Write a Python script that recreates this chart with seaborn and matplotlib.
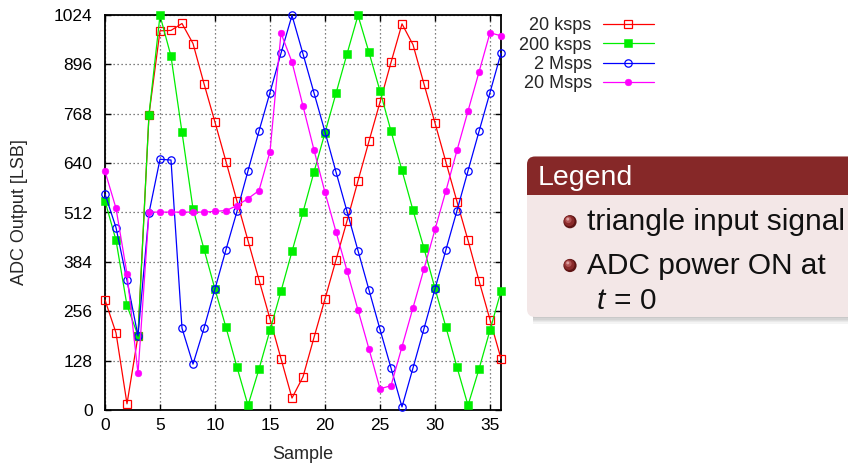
import matplotlib
matplotlib.use("Agg")
import numpy as np
import pandas as pd
import seaborn as sns
import matplotlib.pyplot as plt
from matplotlib.patches import FancyBboxPatch, Rectangle, Circle

samples = list(range(37))
adc_20ksps = [285, 200, 16, 192, 766, 983, 984, 1002, 950, 846, 746, 644, 541, 439, 337, 236, 133, 31, 86,
              188, 288, 389, 490, 594, 697, 798, 901, 1001, 947, 845, 744, 642, 540, 440, 335, 234, 133]
adc_200ksps = [542, 440, 271, 193, 766, 1023, 917, 720, 522, 417, 313, 214, 111, 12, 106, 207, 308, 411, 513,
               617, 719, 821, 923, 1023, 927, 827, 723, 621, 518, 419, 315, 214, 111, 12, 106, 207, 308]
adc_2Msps = [560, 473, 336, 192, 511, 650, 648, 212, 119, 212, 314, 416, 515, 620, 723, 823, 925, 1023, 923,
             822, 721, 617, 515, 413, 311, 209, 109, 8, 109, 211, 314, 416, 517, 620, 722, 823, 925]
adc_20Msps = [619, 523, 353, 95, 513, 513, 513, 513, 513, 513, 515, 517, 530, 548, 569, 670, 977, 902, 788,
              674, 564, 462, 361, 259, 158, 55, 63, 164, 265, 366, 468, 569, 673, 775, 876, 978, 970]
series_names = ["20 ksps", "200 ksps", "2 Msps", "20 Msps"]
y_ticks = [0, 128, 256, 384, 512, 640, 768, 896, 1024]
x_ticks = [0, 5, 10, 15, 20, 25, 30, 35]
block_title = "Legend"
block_items = ["triangle input signal", "ADC power ON at"]
block_item_cont = "$t\\,=\\,0$"

frames = []
for name, vals in zip(series_names, [adc_20ksps, adc_200ksps, adc_2Msps, adc_20Msps]):
    frames.append(pd.DataFrame({"sample": samples, "adc": vals, "series": name}))
df = pd.concat(frames, ignore_index=True)

sns.set_style("ticks")
plt.rcParams["font.family"] = ["Liberation Sans", "DejaVu Sans"]
plt.rcParams["mathtext.fontset"] = "custom"
plt.rcParams["mathtext.rm"] = "Liberation Sans"
plt.rcParams["mathtext.it"] = "Liberation Sans:italic"

fig = plt.figure(figsize=(8.48, 4.65), dpi=100)
ax = fig.add_axes([105 / 848, 1 - 410 / 465, 396 / 848, 395 / 465])

styles = {
    "20 ksps": dict(color="#ff0000", marker="s", markersize=5.2, markerfacecolor="none",
                    markeredgecolor="#ff0000", markeredgewidth=0.9),
    "200 ksps": dict(color="#00ee00", marker="s", markersize=5.4, markerfacecolor="#00ee00",
                     markeredgecolor="#00ee00", markeredgewidth=0.4),
    "2 Msps": dict(color="#0000ff", marker="o", markersize=5.3, markerfacecolor="none",
                   markeredgecolor="#0000ff", markeredgewidth=0.9),
    "20 Msps": dict(color="#ff00ff", marker="o", markersize=4.8, markerfacecolor="#ff00ff",
                    markeredgecolor="#ff00ff", markeredgewidth=0.4),
}
for i, name in enumerate(series_names):
    sub = df[df["series"] == name]
    sns.lineplot(data=sub, x="sample", y="adc", ax=ax, estimator=None, errorbar=None,
                 linewidth=0.9, clip_on=False, zorder=3 + i, label=name, **styles[name])

ax.set_xlim(0, 36)
ax.set_ylim(0, 1024)
ax.set_xticks(x_ticks)
ax.set_yticks(y_ticks)
ax.set_xticklabels([str(t) for t in x_ticks])
ax.set_yticklabels([str(t) for t in y_ticks])
ax.tick_params(direction="in", top=True, right=True, length=4, width=1.0, labelsize=12.5, colors="black")
ax.tick_params(axis="y", pad=9)
ax.tick_params(axis="x", pad=6)
for s in ax.spines.values():
    s.set_visible(True)
    s.set_linewidth(1.3)
    s.set_color("black")
ax.grid(True, color="#555555", linestyle=(0, (1, 2.2)), linewidth=0.9)
ax.set_axisbelow(True)
ax.set_xlabel("Sample", fontsize=13)
ax.set_ylabel("ADC Output [LSB]", fontsize=13)
ax.yaxis.set_label_coords((28 - 105) / 396, 0.5)
ax.xaxis.set_label_coords(0.5, -(446 - 410) / 395)

handles = ax.get_lines()[:4]
leg = ax.legend(handles, series_names, loc="upper right", bbox_to_anchor=(654 / 848, 1 - 17.5 / 465),
                bbox_transform=fig.transFigure, frameon=False, markerfirst=False, fontsize=13,
                handlelength=2.85, handletextpad=0.6, labelspacing=0.12, borderpad=0, borderaxespad=0)

# Beamer-style block on an overlay in pixel coordinates
ov = fig.add_axes([0, 0, 1, 1], zorder=10)
ov.set_xlim(0, 848)
ov.set_ylim(465, 0)
ov.axis("off")
ov.patch.set_alpha(0)

bx, by, bw, bh, th = 527, 156.5, 400, 160.5, 38.5
for k in range(8):
    ov.add_patch(Rectangle((bx + 6, by + bh - 4 + k * 1.3), bw, 1.4, facecolor="#000000",
                           edgecolor="none", alpha=0.34 * (1 - k / 8)))
ov.add_patch(FancyBboxPatch((bx, by), bw, bh, boxstyle="round,pad=0,rounding_size=8",
                            facecolor="#f3e7e7", edgecolor="none"))
ov.add_patch(FancyBboxPatch((bx, by), bw, th, boxstyle="round,pad=0,rounding_size=8",
                            facecolor="#862828", edgecolor="none"))
ov.add_patch(Rectangle((bx, by + th - 12), bw, 12, facecolor="#862828", edgecolor="none"))
ov.text(538, 185, block_title, color="white", fontsize=20.5, va="baseline", ha="left")

for cy, base, txt in zip([221.7, 265.5], [230, 274], block_items):
    cx = 570
    ov.add_patch(Circle((cx, cy), 6.6, facecolor="#5e1414", edgecolor="none"))
    ov.add_patch(Circle((cx - 0.8, cy - 0.8), 5.3, facecolor="#8a2a2a", edgecolor="none"))
    ov.add_patch(Circle((cx - 1.6, cy - 1.8), 3.2, facecolor="#b05454", edgecolor="none"))
    ov.add_patch(Circle((cx - 2.2, cy - 2.6), 1.5, facecolor="#dca0a0", edgecolor="none"))
    ov.text(587, base, txt, color="#111111", fontsize=21.5, va="baseline", ha="left")
ov.text(596, 308.5, block_item_cont, color="#111111", fontsize=21.5, va="baseline", ha="left")

fig.savefig("out.png", dpi=100)
